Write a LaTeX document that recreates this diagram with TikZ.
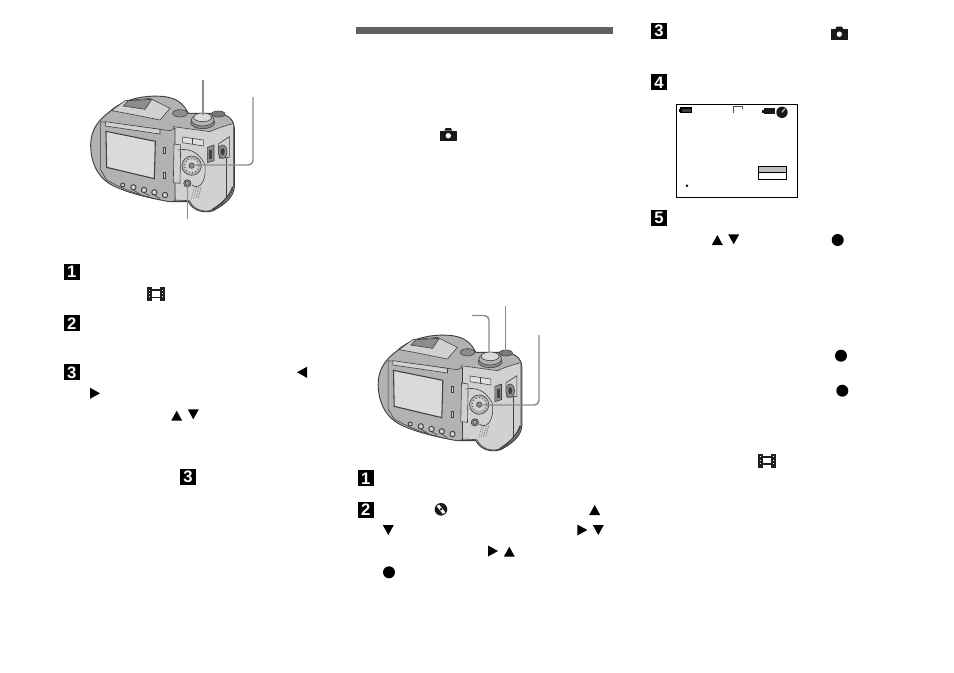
\documentclass[tikz,border=0pt]{standalone}
\usepackage{fontspec}
\setsansfont{Liberation Sans}
\usetikzlibrary{calc}
\definecolor{camline}{gray}{0.25}
\definecolor{camdark}{gray}{0.55}
\definecolor{cammid}{gray}{0.70}
\definecolor{camlight}{gray}{0.82}
\definecolor{leader}{gray}{0.55}
\tikzset{
  numbox/.style={fill=black,text=white,minimum size=12pt,inner sep=0pt,font=\sffamily\bfseries\fontsize{12.5}{12.5}\selectfont},
  leaderline/.style={draw=leader,line width=1.1pt,rounded corners=3.5pt},
  cam/.style={draw=camline,line width=.45pt},
  blk/.style={fill=black,draw=none}
}
\newcommand{\triU}[2]{\fill[black] (#1-5.5,#2+5) -- (#1+5.5,#2+5) -- (#1,#2-5) -- cycle;}
\newcommand{\triD}[2]{\fill[black] (#1-5.5,#2-5) -- (#1+5.5,#2-5) -- (#1,#2+5) -- cycle;}
\newcommand{\triR}[2]{\fill[black] (#1-5,#2-5.5) -- (#1-5,#2+5.5) -- (#1+5,#2) -- cycle;}
\newcommand{\triL}[2]{\fill[black] (#1+5,#2-5.5) -- (#1+5,#2+5.5) -- (#1-5,#2) -- cycle;}
\newcommand{\dotb}[2]{\fill[black] (#1,#2) circle (6);}
\newcommand{\filmicon}[2]{%
  \begin{scope}[shift={(#1,#2)}]
    \fill[black!88] (-8.7,-7) rectangle (-3.6,7);
    \fill[black!88] (3.6,-7) rectangle (8.7,7);
    \fill[black!88] (-4,-4.6) rectangle (4,-3);
    \fill[black!88] (-4,2.6) rectangle (4,4.4);
    \foreach \yy in {-4.2,-.9,2.4}{\fill[white] (-7.2,\yy) rectangle (-5.6,\yy+1);\fill[white] (5.6,\yy) rectangle (7.2,\yy+1);}
  \end{scope}}
\newcommand{\photoicon}[2]{%
  \begin{scope}[shift={(#1,#2)}]
    \fill[black!90] (-8.3,-3.8) rectangle (8.3,6.6);
    \fill[black!90] (-4,-3.8) -- (-2.6,-6.5) -- (2.6,-6.5) -- (4,-3.8) -- cycle;
    \fill[white] (0,1.2) circle (2.7);
  \end{scope}}
\newcommand{\discicon}[3]{%
  \fill[black!90] (#1,#2) circle (#3);
  \fill[white] (#1-.7*#3,#2-.5*#3) -- (#1-.3*#3,#2-.75*#3) -- (#1+.7*#3,#2+.5*#3) -- (#1+.3*#3,#2+.75*#3) -- cycle;
  \fill[black!90] (#1,#2) circle (.22*#3);}
\newcommand{\camera}[2]{%
\begin{scope}[shift={(#1,#2)},x=.25pt,y=-.25pt]
  % rear body silhouette
  \draw[cam,line width=.7pt,fill=cammid] (118,126) .. controls (150,95) and (210,72) .. (285,80)
    .. controls (320,85) and (340,100) .. (355,130) -- (440,130)
    .. controls (470,132) and (492,145) .. (493,175) -- (493,352)
    .. controls (490,385) and (460,405) .. (430,422)
    .. controls (405,430) and (370,425) .. (355,395)
    -- (300,395) .. controls (240,385) and (180,370) .. (140,352)
    .. controls (85,330) and (62,280) .. (62,225)
    .. controls (62,180) and (85,150) .. (118,126) -- cycle;
  % viewfinder top
  \draw[cam,fill=camlight] (125,122) -- (165,92) -- (240,85) -- (300,115) -- (270,150) -- (170,130) -- cycle;
  \draw[cam,fill=camdark] (160,108) -- (175,92) -- (245,88) -- (225,118) -- cycle;
  \draw[cam,fill=camdark] (330,130) ellipse (22 and 11);
  % front body
  \draw[cam,fill=camlight] (310,170) -- (420,185) .. controls (450,170) and (480,165) .. (490,160)
    -- (490,350) .. controls (485,385) and (455,405) .. (428,420)
    .. controls (400,428) and (372,420) .. (358,392) -- (315,390) -- cycle;
  % LCD panel
  \draw[cam,fill=cammid] (92,155) -- (300,182) -- (315,175) -- (315,392) -- (300,395)
     .. controls (230,382) and (170,365) .. (110,330) -- (92,300) -- cycle;
  \draw[cam,fill=camlight] (106,155) -- (270,178) -- (270,192) -- (106,168) -- cycle;
  \draw[cam,line width=.8pt,fill=camlight!80!white] (108,184) -- (256,214) -- (253,326) -- (110,292) -- cycle;
  \draw[cam,fill=camlight] (280,232) rectangle (287,250);
  \draw[cam,fill=camlight] (280,308) rectangle (287,326);
  \draw[cam,fill=camlight] (312,222) -- (332,225) -- (330,340) -- (310,338) -- cycle;
  % bottom row buttons
  \foreach \bx/\by/\br in {158/345/6,190/352/8,222/360/8,253/367/8,285/375/8}{
    \draw[cam,fill=camlight,line width=.7pt] (\bx,\by) circle (\br);}
  \draw[cam] (190,360) -- (210,372) (222,368) -- (240,378) (253,375) -- (270,386);
  % zoom rocker
  \draw[cam,fill=camlight!70!white] (338,201) -- (400,210) -- (400,228) -- (338,218) -- cycle;
  \draw[cam] (367,205) -- (367,222);
  % control pad
  \draw[cam] (324,240) .. controls (350,235) and (385,240) .. (405,285)
     .. controls (410,340) and (385,360) .. (365,345);
  \draw[cam,fill=cammid] (365,287) circle (29);
  \draw[cam,dotted,line width=.8pt,fill=camlight] (365,287) circle (21);
  \draw[cam,fill=camdark] (365,287) circle (8);
  % small button
  \draw[cam,fill=camdark] (352,340) circle (11);
  \draw[cam,fill=cammid] (352,340) circle (6);
  % speaker grille
  \foreach \sx in {0,1,2,3}{\foreach \sy in {0,1,2,3,4,5}{
    \fill[camline] (372+\sx*7-\sy*1.5,355+\sy*6-\sx*1.2) circle (1.2);}}
  % side controls
  \draw[cam,fill=camdark] (412,232) -- (432,225) -- (432,272) -- (412,278) -- cycle;
  \fill[camline] (417,240) rectangle (427,268);
  \draw[cam,fill=camlight] (445,222) -- (478,200) -- (478,262) -- (448,265) -- cycle;
  \draw[cam,fill=camdark] (458,245) ellipse (13 and 20);
  \fill[camline] (458,245) ellipse (6 and 11);
  \draw[cam] (468,265) -- (468,385);
  \draw[cam,line width=1pt] (488,350) .. controls (480,380) and (450,405) .. (425,420);
  % mode button and dial
  \draw[cam,fill=camline!70] (445,132) ellipse (20 and 9);
  \draw[cam,fill=camdark] (398,158) ellipse (36 and 18);
  \draw[cam,fill=cammid] (398,150) ellipse (34 and 18);
  \draw[cam,fill=white!85!black] (398,142) ellipse (27 and 13);
\end{scope}}
\begin{document}
\begin{tikzpicture}[x=.75pt,y=-.75pt]
\useasboundingbox[fill=white] (0,0) rectangle (954,672);
% cameras
\camera{70}{70}
\camera{357.5}{309}
% header bar
\fill[black!62] (356,27.3) rectangle (612.7,34);
% leaders camera 1
\coordinate (a1) at (203,80); \coordinate (a2) at (203,115);
\coordinate (b1) at (253,97); \coordinate (b2) at (192,165);
\coordinate (c1) at (187.5,219); \coordinate (c2) at (187.5,183);
\draw[leaderline] (a1) -- (a2);
\draw[leaderline] (b1) |- (b2);
\draw[leaderline] (c1) -- (c2);
% leaders camera 2
\coordinate (d1) at (472,315.5); \coordinate (d2) at (489,352);
\coordinate (e1) at (505.5,306); \coordinate (e2) at (505.5,352);
\coordinate (f1) at (539,335); \coordinate (f2) at (478,405);
\draw[leaderline] (d1) -| (d2);
\draw[leaderline] (e1) -- (e2);
\draw[leaderline] (f1) |- (f2);
% numbered squares
\node[numbox] (l1) at (71.7,271.7) {1};
\node[numbox] (l2) at (71.7,323.3) {2};
\node[numbox] (l3) at (71.7,372.3) {3};
\node[numbox] (l3b) at (188,476.7) {3};
\node[numbox] (m1) at (365.7,478.3) {1};
\node[numbox] (m2) at (365.7,510) {2};
\node[numbox] (r3) at (659,30.7) {3};
\node[numbox] (r4) at (659,82.3) {4};
\node[numbox] (r5) at (659,218.3) {5};
% left column icons
\filmicon{156}{294}
\triL{302}{372.3}
\triR{95}{393.3}
\triU{176.7}{415.7}
\triD{193.3}{414.3}
% middle column icons
\photoicon{448.3}{134.5}
\discicon{441}{509.3}{6.3}
\triU{594.7}{510}
\triD{388.3}{530}
\triR{582.3}{530}
\triD{598.3}{530}
\triR{493}{551}
\triU{509.3}{551.7}
\dotb{389}{572.3}
% right column icons
\photoicon{839.3}{33}
\triU{717.3}{240}
\triD{733.7}{239.3}
\dotb{837.7}{240}
\dotb{841}{355.7}
\dotb{842.3}{390.7}
\filmicon{767}{460.5}
% screen box
\draw[black,line width=.8pt] (676.3,104.3) rectangle (797.3,197.3);
\draw[black,line width=.8pt,fill=black!75] (681,108) rectangle (691.7,112.7);
\fill[black] (679.3,109) rectangle (681,111.7);
\draw[black!70,line width=.7pt] (733.5,113.3) -- (733.5,106.9) -- (742.7,106.9) -- (742.7,108.8);
\fill[black!90] (763.5,108.3) rectangle (775,114);
\fill[black!90] (761.7,110) rectangle (763.5,112.5);
\fill[black!90] (782,112.3) circle (5.7);
\draw[white,line width=.6pt] (782,112.3) -- (785,108.5);
\draw[black,line width=.7pt,fill=black!25] (758.3,166.3) rectangle (786.7,172.3);
\draw[black,line width=.7pt,fill=white] (758.3,172.3) rectangle (786.7,179.3);
\fill[black] (687,185.7) circle (1.4);
\end{tikzpicture}
\end{document}
